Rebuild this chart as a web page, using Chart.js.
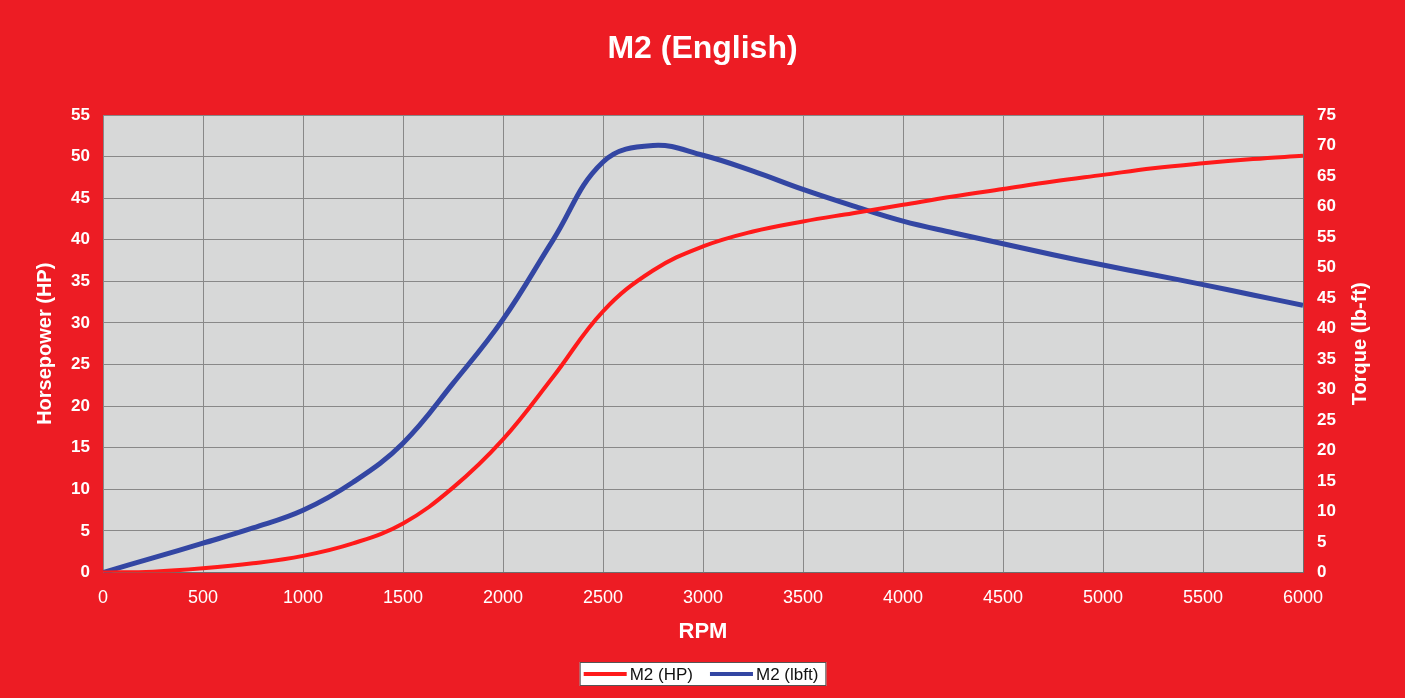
<!DOCTYPE html>
<html>
<head>
<meta charset="utf-8">
<script src="https://cdn.jsdelivr.net/npm/chart.js@4/dist/chart.umd.min.js"></script>
<style>
  html, body { margin: 0; padding: 0; background: #ed1c24; }
  canvas { display: block; }
</style>
</head>
<body>
<canvas id="c" width="1405" height="698"></canvas>
<script>
// ---- data ----
const rpm = [0, 250, 500, 750, 1000, 1250, 1500, 1750, 2000, 2250, 2500, 2750, 3000,
             3250, 3500, 3750, 4000, 4250, 4500, 4750, 5000, 5250, 5500, 5750, 6000];
const horsepower = [0, 0.1, 0.5, 1.1, 2.0, 3.5, 5.9, 10.2, 16.0, 23.5, 31.4, 36.3, 39.2,
                    41.0, 42.2, 43.2, 44.2, 45.2, 46.1, 47.0, 47.8, 48.6, 49.2, 49.7, 50.1];
const torque = [0, 2.4, 4.8, 7.3, 10.2, 14.8, 21.2, 31.0, 41.5, 54.5, 67.3, 70.0, 68.4,
                65.8, 62.8, 60.1, 57.6, 55.7, 53.9, 52.1, 50.4, 48.8, 47.2, 45.5, 43.8];
const seriesNames = ['M2 (HP)', 'M2 (lbft)'];
const chartTitle = 'M2 (English)';
const xTitle = 'RPM';
const yLeftTitle = 'Horsepower (HP)';
const yRightTitle = 'Torque (lb-ft)';

const WHITE = '#ffffff';
const GRID = '#888888';
const FONT = '"Liberation Sans", Arial, Helvetica, sans-serif';

const plotBg = {
  id: 'plotBg',
  beforeDraw(chart) {
    const {ctx, chartArea: a} = chart;
    ctx.save();
    ctx.fillStyle = '#d7d8d8';
    ctx.fillRect(a.left, a.top, a.right - a.left, a.bottom - a.top);
    ctx.restore();
  }
};

const extras = {
  id: 'extras',
  afterDraw(chart) {
    const {ctx, chartArea: a} = chart;
    ctx.save();
    // right axis title, reading bottom-to-top
    ctx.translate(1360, (a.top + a.bottom) / 2);
    ctx.rotate(-Math.PI / 2);
    ctx.fillStyle = WHITE;
    ctx.font = 'bold 20px ' + FONT;
    ctx.textAlign = 'center';
    ctx.textBaseline = 'middle';
    ctx.fillText(yRightTitle, 0, 0);
    ctx.restore();

    // legend box
    ctx.save();
    ctx.font = '17px ' + FONT;
    const ds = chart.data.datasets;
    const lineW = 43, padL = 4, gapT = 3, gapI = 17, padR = 8;
    let total = padL + padR;
    const widths = ds.map(d => ctx.measureText(d.label).width);
    ds.forEach((d, i) => { total += lineW + gapT + widths[i] + (i < ds.length - 1 ? gapI : 0); });
    const cx = 703, top = 662, h = 24;
    const left = cx - total / 2;
    ctx.fillStyle = '#ffffff';
    ctx.fillRect(left, top, total, h);
    ctx.strokeStyle = '#555555';
    ctx.lineWidth = 1;
    ctx.strokeRect(left + 0.5, top + 0.5, total - 1, h - 1);
    let x = left + padL;
    const y = top + h / 2;
    ds.forEach((d, i) => {
      ctx.strokeStyle = d.borderColor;
      ctx.lineWidth = 4;
      ctx.beginPath();
      ctx.moveTo(x, y);
      ctx.lineTo(x + lineW, y);
      ctx.stroke();
      x += lineW + gapT;
      ctx.fillStyle = '#111111';
      ctx.textAlign = 'left';
      ctx.textBaseline = 'middle';
      ctx.fillText(d.label, x, y + 1);
      x += widths[i] + gapI;
    });
    ctx.restore();
  }
};

new Chart(document.getElementById('c'), {
  type: 'line',
  data: {
    datasets: [
      {
        label: seriesNames[0],
        data: rpm.map((r, i) => ({x: r, y: horsepower[i]})),
        borderColor: '#ff1a1a',
        borderWidth: 4,
        pointRadius: 0,
        tension: 0.4,
        yAxisID: 'yHP'
      },
      {
        label: seriesNames[1],
        data: rpm.map((r, i) => ({x: r, y: torque[i]})),
        borderColor: '#3346a3',
        borderWidth: 5,
        pointRadius: 0,
        tension: 0.4,
        yAxisID: 'yTQ'
      }
    ]
  },
  options: {
    responsive: false,
    animation: false,
    devicePixelRatio: 1,
    layout: { padding: { left: 0, right: 0, top: 0, bottom: 48 } },
    plugins: {
      legend: { display: false },
      tooltip: { enabled: false },
      title: {
        display: true,
        text: chartTitle,
        color: WHITE,
        font: { family: FONT, size: 32, weight: 'bold' },
        padding: { top: 30, bottom: 46.6 }
      }
    },
    scales: {
      x: {
        type: 'linear',
        min: 0, max: 6000,
        ticks: {
          stepSize: 500,
          color: WHITE,
          font: { family: FONT, size: 18 },
          padding: 15,
          maxRotation: 0,
          callback: v => String(v)
        },
        grid: { color: GRID, lineWidth: 1, drawTicks: false },
        border: { color: '#6e6e6e', width: 1 },
        title: {
          display: true,
          text: xTitle,
          color: WHITE,
          font: { family: FONT, size: 22, weight: 'bold' },
          padding: { top: 0, bottom: 5 }
        },
        afterFit: s => { s.height = 77.5; }
      },
      yHP: {
        type: 'linear',
        position: 'left',
        min: 0, max: 55,
        ticks: {
          stepSize: 5,
          color: WHITE,
          font: { family: FONT, size: 17, weight: 'bold' },
          padding: 13
        },
        grid: { color: GRID, lineWidth: 1, drawTicks: false },
        border: { color: '#888888', width: 1 },
        title: {
          display: true,
          text: yLeftTitle,
          color: WHITE,
          font: { family: FONT, size: 20, weight: 'bold' },
          padding: { top: 33, bottom: 0 }
        },
        afterFit: s => { s.width = 103; }
      },
      yTQ: {
        type: 'linear',
        position: 'right',
        min: 0, max: 75,
        ticks: {
          stepSize: 5,
          color: WHITE,
          font: { family: FONT, size: 17, weight: 'bold' },
          padding: 14
        },
        grid: { drawOnChartArea: false, drawTicks: false },
        border: { color: '#6e6e6e', width: 1 },
        afterFit: s => { s.width = 102; }
      }
    }
  },
  plugins: [plotBg, extras]
});
</script>
</body>
</html>
